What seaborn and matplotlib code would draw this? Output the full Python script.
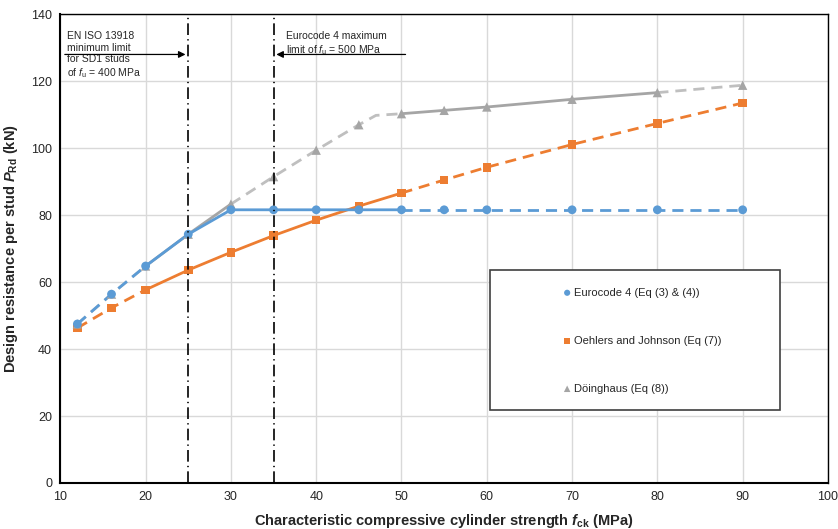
import matplotlib
matplotlib.use("Agg")
import matplotlib.pyplot as plt
import seaborn as sns
import numpy as np
from matplotlib.patches import Rectangle

# fck values (MPa) and design resistance per stud (kN)
fck = [12, 16, 20, 25, 30, 35, 40, 45, 50, 55, 60, 70, 80, 90]
ec4 = [47.5, 56.4, 64.8, 74.3, 81.6, 81.6, 81.6, 81.6, 81.6, 81.6, 81.6, 81.6, 81.6, 81.6]
oehlers = [46.3, 52.3, 57.7, 63.6, 68.9, 73.9, 78.5, 82.7, 86.6, 90.5, 94.3, 101.1, 107.4, 113.5]
doinghaus = [47.5, 56.4, 64.8, 74.3, 83.3, 91.5, 99.4, 107.0, 110.3, 111.3, 112.3, 114.6, 116.6, 118.8]
# the Döinghaus curve kinks between 45 and 50 (no marker there)
doinghaus_line_x = [12, 16, 20, 25, 30, 35, 40, 45, 47, 50, 55, 60, 70, 80, 90]
doinghaus_line_y = [47.5, 56.4, 64.8, 74.3, 83.3, 91.5, 99.4, 107.0, 109.8, 110.3, 111.3, 112.3, 114.6, 116.6, 118.8]

labels = ["Eurocode 4 (Eq (3) & (4))", "Oehlers and Johnson (Eq (7))", "Döinghaus (Eq (8))"]
limits = [25, 35]

# (from fck, to fck, dashed?) segments for each curve
ec4_segments = [(12, 20, True), (20, 50, False), (50, 90, True)]
oehlers_segments = [(12, 20, True), (20, 50, False), (50, 90, True)]
doinghaus_segments = [(12, 20, True), (20, 30, False), (30, 50, True), (50, 80, False), (80, 90, True)]

BLUE = "#5B9BD5"
ORANGE = "#ED7D31"
GREY = "#A5A5A5"

sns.set_style("white")
plt.rcParams["font.family"] = ["Liberation Sans", "DejaVu Sans"]
plt.rcParams["mathtext.fontset"] = "custom"
plt.rcParams["mathtext.rm"] = "Liberation Sans"
plt.rcParams["mathtext.it"] = "Liberation Sans:italic"
plt.rcParams["mathtext.bf"] = "Liberation Sans:bold"
plt.rcParams["mathtext.bfit"] = "Liberation Sans:bold:italic"

fig, ax = plt.subplots(figsize=(8.38, 5.29), dpi=100)


def draw_curve(xs, ys, segments, color, dash_color=None, z=3):
    xs = np.asarray(xs)
    ys = np.asarray(ys)
    for x0, x1, dashed in segments:
        m = (xs >= x0) & (xs <= x1)
        sns.lineplot(x=xs[m], y=ys[m], ax=ax, color=(dash_color or color) if dashed else color,
                     linewidth=2, linestyle=(0, (4, 2.5)) if dashed else "-", zorder=z)


draw_curve(fck, oehlers, oehlers_segments, ORANGE)
draw_curve(doinghaus_line_x, doinghaus_line_y, doinghaus_segments, GREY, "#BFBFBF", z=2.9)
draw_curve(fck, ec4, ec4_segments, BLUE)

sns.scatterplot(x=fck, y=oehlers, ax=ax, marker="s", s=38, color=ORANGE, edgecolor="none", zorder=4, label=labels[1])
sns.scatterplot(x=fck, y=doinghaus, ax=ax, marker="^", s=45, color=GREY, edgecolor="none", zorder=4, label=labels[2])
sns.scatterplot(x=fck, y=ec4, ax=ax, marker="o", s=40, color=BLUE, edgecolor="none", zorder=5, label=labels[0])

for lim in limits:
    ax.axvline(lim, color="black", linewidth=1.2, linestyle=(0, (7, 2.5, 0.8, 2.5)), zorder=6)

ax.set_xlim(10, 100)
ax.set_ylim(0, 140)
ax.set_xticks(np.arange(10, 101, 10))
ax.set_yticks(np.arange(0, 141, 20))
ax.tick_params(labelsize=9, length=0, pad=6)
ax.grid(True, color="#D9D9D9", linewidth=1)
ax.set_axisbelow(True)
for side, sp in ax.spines.items():
    sp.set_color("black")
    sp.set_linewidth(1.5 if side in ("left", "bottom") else 1)

ax.set_xlabel(r"Characteristic compressive cylinder strength $\mathbfit{f}_{\mathbf{ck}}$ (MPa)",
              fontsize=10.5, fontweight="bold", labelpad=6)
ax.set_ylabel(r"Design resistance per stud $\mathbfit{P}_{\mathbf{Rd}}$ (kN)",
              fontsize=10.5, fontweight="bold", labelpad=8)

# annotations for the stud strength limits
ax.annotate("", xy=(limits[0], 128), xytext=(10.2, 128),
            arrowprops=dict(arrowstyle="-|>", color="black", lw=0.9, mutation_scale=10), zorder=7)
ax.text(10.8, 135.0, "EN ISO 13918\nminimum limit\nfor SD1 studs\nof $f_{\\mathrm{u}}$ = 400 MPa",
        fontsize=7.5, va="top", ha="left", linespacing=1.2)
ax.annotate("", xy=(limits[1], 128), xytext=(50.8, 128),
            arrowprops=dict(arrowstyle="-|>", color="black", lw=0.9, mutation_scale=10), zorder=7)
ax.text(36.5, 135.0, "Eurocode 4 maximum\nlimit of $f_{\\mathrm{u}}$ = 500 MPa",
        fontsize=7.5, va="top", ha="left", linespacing=1.2)

# legend box
ax.add_patch(Rectangle((0.56, 0.156), 0.377, 0.298, transform=ax.transAxes, facecolor="white",
                       edgecolor="#404040", linewidth=1.2, zorder=8))
handles, labs = ax.get_legend_handles_labels()
order = [labs.index(l) for l in labels]
leg = ax.legend([handles[i] for i in order], [labs[i] for i in order], loc="upper left",
                bbox_to_anchor=(0.64, 0.438), frameon=False, fontsize=8, labelspacing=3.42,
                handletextpad=0.1, handlelength=1.0, markerscale=0.7)
leg.set_zorder(9)

plt.subplots_adjust(left=0.072, right=0.988, top=0.973, bottom=0.087)
fig.savefig("out.png", dpi=100)
